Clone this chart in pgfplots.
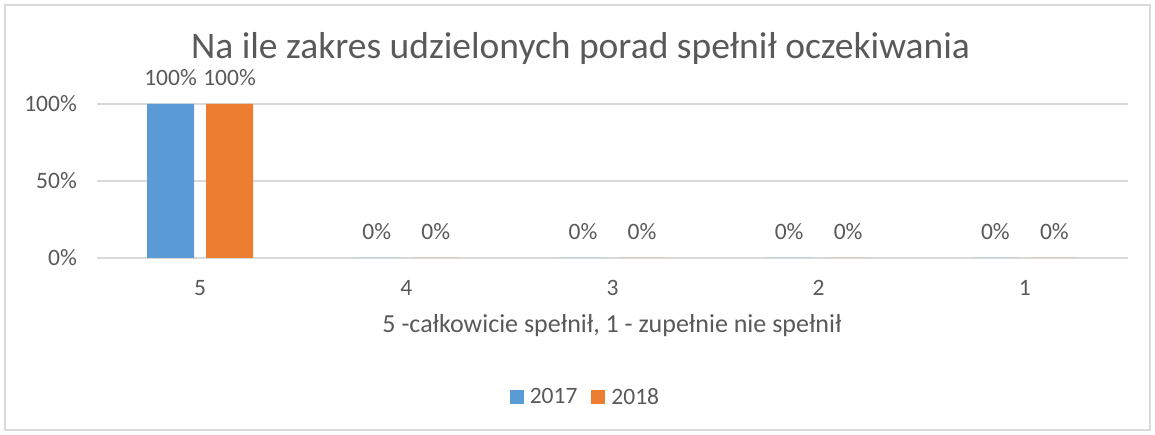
\documentclass[border=0pt]{standalone}
\usepackage{pgfplots}
\pgfplotsset{compat=1.18}
\usepackage{fontspec}
\setmainfont{Carlito}
\definecolor{cblue}{HTML}{5B9BD5}
\definecolor{corange}{HTML}{ED7D31}
\definecolor{gridc}{HTML}{D9D9D9}
\definecolor{textc}{HTML}{595959}
\pgfplotsset{mylegend/.style={legend image code/.code={\fill[##1,draw=none] (0pt,-7pt) rectangle (14pt,7pt);}}}
\begin{document}
\begin{tikzpicture}[x=1pt,y=1pt]
\path[use as bounding box] (0,0) rectangle (1155,435);
\draw[gridc, line width=1.2pt] (5,5) rectangle (1150,430);
\node[text=textc, font=\fontsize{37.5}{44}\selectfont, inner sep=0pt] at (580.5,386) {Na ile zakres udzielonych porad spełnił oczekiwania};
\node[text=textc, font=\fontsize{26}{31}\selectfont] at (612,109) {5 -całkowicie spełnił, 1 - zupełnie nie spełnił};
\begin{axis}[
  at={(97pt,177pt)}, anchor=south west,
  scale only axis, width=1031pt, height=154pt,
  xmin=-0.5, xmax=4.5, ymin=0, ymax=100,
  xtick={0,1,2,3,4}, xticklabels={5,4,3,2,1},
  ytick={0,50,100}, yticklabels={0\%,50\%,100\%},
  ymajorgrids, grid style={gridc, line width=1.3pt},
  axis line style={draw=none}, major tick length=0pt,
  tick label style={font=\fontsize{23.5}{28}\selectfont, text=textc},
  x tick label style={anchor=north, inner sep=0pt, yshift=-22pt},
  y tick label style={anchor=east, inner sep=0pt, xshift=-20pt},
  clip=false,
  /pgf/number format/assume math mode=true,
  nodes near coords={\pgfmathprintnumber{\pgfplotspointmeta}\%},
  every node near coord/.append style={font=\fontsize{23.5}{28}\selectfont, text=textc, anchor=south, inner sep=0pt, yshift=18pt},
  legend columns=2,
  legend style={draw=none, fill=none, at={(0.4738,-0.9026)}, anchor=center, font=\fontsize{23.5}{28}\selectfont, text=textc,
    /tikz/every even column/.append style={column sep=12pt},
    /tikz/every odd column/.append style={column sep=4pt}},
]
\addplot[ybar, bar width=47pt, bar shift=-29.5pt, fill=cblue, draw=none, mylegend,
  every node near coord/.append style={xshift=-29.5pt}] coordinates {(0,100) (1,0) (2,0) (3,0) (4,0)};
\addplot[ybar, bar width=47pt, bar shift=29.5pt, fill=corange, draw=none, mylegend,
  every node near coord/.append style={xshift=29.5pt}] coordinates {(0,100) (1,0) (2,0) (3,0) (4,0)};
\legend{2017,2018}
\end{axis}
\end{tikzpicture}
\end{document}
